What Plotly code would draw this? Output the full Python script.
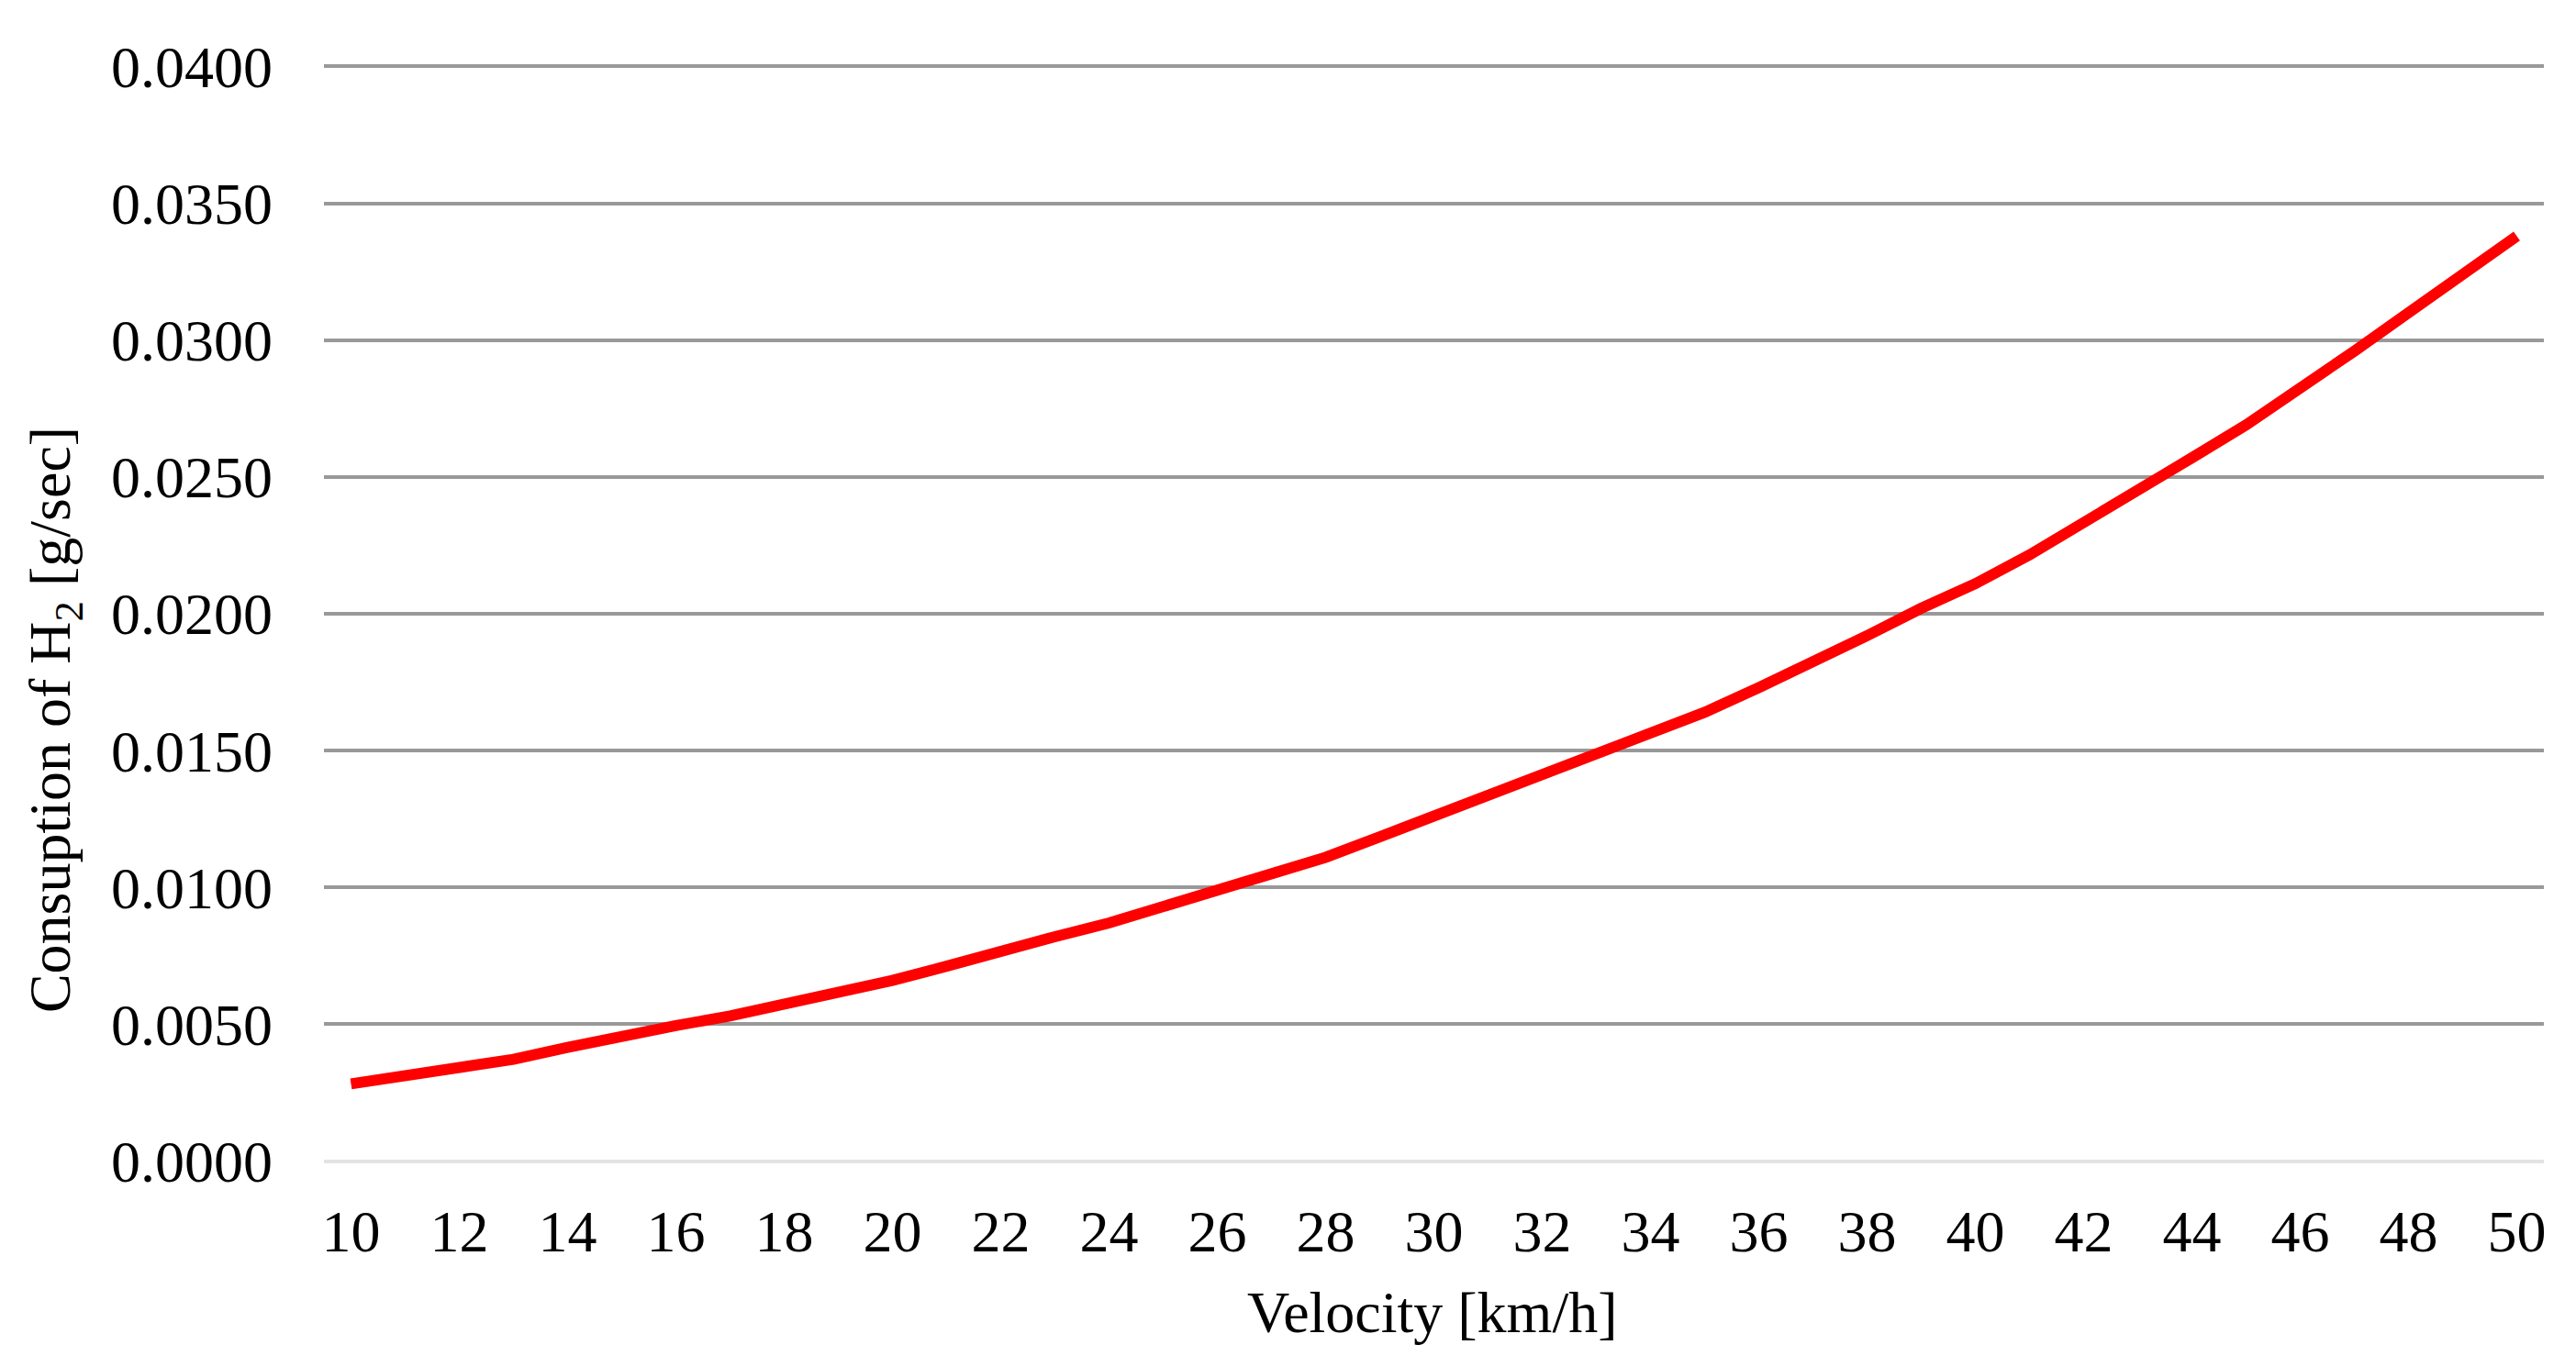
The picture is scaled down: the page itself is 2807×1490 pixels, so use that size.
import plotly.graph_objects as go

velocity = list(range(10, 51))
consumption = [0.00282, 0.00310, 0.00340, 0.00372, 0.00415, 0.00458, 0.00495, 0.00530,
               0.00572, 0.00620, 0.00660, 0.00712, 0.00770, 0.00820, 0.00870, 0.00930,
               0.00990, 0.01050, 0.01110, 0.01185, 0.01260, 0.01335, 0.01410, 0.01480,
               0.01560, 0.01640, 0.01730, 0.01820, 0.01920, 0.02020, 0.02110, 0.02215,
               0.02330, 0.02450, 0.02570, 0.02690, 0.02820, 0.02960, 0.03100, 0.03240,
               0.03380]
x_ticks = list(range(10, 51, 2))

font = "Liberation Serif, Times New Roman, serif"

fig = go.Figure(go.Scatter(
    x=velocity, y=consumption, mode="lines",
    line=dict(color="#FF0000", width=12),
    showlegend=False
))

# page body has an 8px margin, so the figure is a bit smaller than the window
fig.update_layout(
    width=2791, height=1474,
    margin=dict(l=345, r=27, t=63, b=215),
    plot_bgcolor="white", paper_bgcolor="white",
    font=dict(family=font, size=64, color="black"),
)

fig.update_xaxes(
    range=[9.5, 50.5], tickvals=x_ticks, showgrid=False, zeroline=False,
    showline=False, ticks="", ticklabelstandoff=32,
    tickfont=dict(family=font, size=64, color="black")
)
fig.update_yaxes(
    range=[-0.00005, 0.04005], dtick=0.005, tickformat=".4f",
    showgrid=True, gridcolor="#999999", gridwidth=4,
    zeroline=True, zerolinecolor="#E3E3E3", zerolinewidth=4,
    showline=False, ticks="", ticklabelstandoff=55,
    tickfont=dict(family=font, size=64, color="black")
)

fig.add_annotation(
    text="Consuption of H<sub>2</sub> [g/sec]", textangle=-90,
    xref="paper", yref="paper", x=-0.1215, y=0.403,
    xanchor="center", yanchor="middle", showarrow=False,
    font=dict(family=font, size=64, color="black")
)
fig.add_annotation(
    text="Velocity [km/h]",
    xref="paper", yref="paper", x=0.499, y=-0.137,
    xanchor="center", yanchor="middle", showarrow=False,
    font=dict(family=font, size=64, color="black")
)

fig.write_html("out.html")
